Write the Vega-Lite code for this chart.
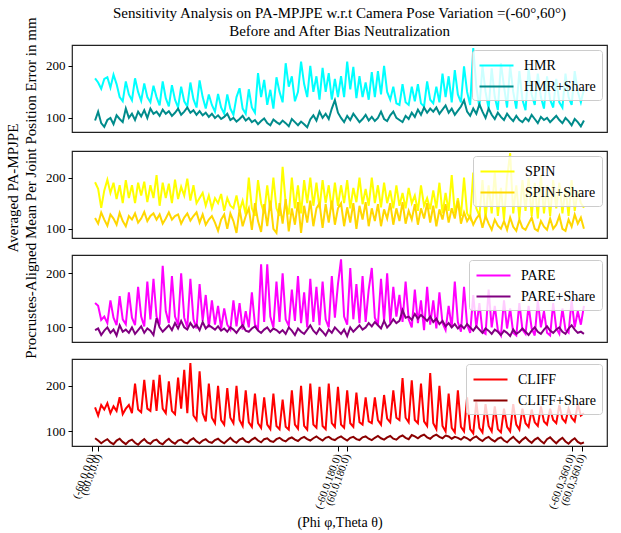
{
"$schema":"https://vega.github.io/schema/vega-lite/v6.json",
"padding":{"left":5,"top":5,"right":5,"bottom":0},
"config":{
"font":"Liberation Serif",
"view":{"stroke":"#222","strokeWidth":1.2},
"axis":{"labelFont":"Liberation Serif","titleFont":"Liberation Serif","labelColor":"#000","titleColor":"#000","tickColor":"#000","grid":false,"domain":false,"labelFontSize":13,"tickSize":4,"labelPadding":3,"titleFontWeight":"normal"},
"legend":{"orient":"top-right","offset":5,"title":null,"labelFont":"Liberation Serif","labelFontSize":14,"labelColor":"#000","symbolType":"M-2,0H2","symbolStrokeWidth":2,"symbolSize":289,"symbolOffset":9,"labelOffset":18,"padding":6,"strokeColor":"#cccccc","fillColor":"rgba(255,255,255,0.8)","cornerRadius":3,"rowPadding":4},
"title":{"font":"Liberation Serif","fontWeight":"normal","color":"#000"}
},
"datasets":{
"names":[{"key":"h","series":"HMR"},{"key":"hs","series":"HMR+Share"},{"key":"s","series":"SPIN"},{"key":"ss","series":"SPIN+Share"},{"key":"p","series":"PARE"},{"key":"ps","series":"PARE+Share"},{"key":"c","series":"CLIFF"},{"key":"cs","series":"CLIFF+Share"}],
"d":[
{"x":0,"h":176,"hs":95,"s":191,"ss":121,"p":145,"ps":95,"c":153,"cs":85},
{"x":1,"h":168,"hs":112,"s":178,"ss":110,"p":140,"ps":98,"c":135,"cs":80},
{"x":2,"h":156,"hs":90,"s":141,"ss":132,"p":114,"ps":86,"c":158,"cs":74},
{"x":3,"h":175,"hs":83,"s":175,"ss":118,"p":120,"ps":94,"c":148,"cs":79},
{"x":4,"h":178,"hs":96,"s":196,"ss":106,"p":108,"ps":100,"c":162,"cs":83},
{"x":5,"h":158,"hs":100,"s":170,"ss":128,"p":150,"ps":90,"c":140,"cs":76},
{"x":6,"h":183,"hs":88,"s":190,"ss":120,"p":118,"ps":96,"c":155,"cs":72},
{"x":7,"h":165,"hs":105,"s":158,"ss":108,"p":104,"ps":85,"c":145,"cs":80},
{"x":8,"h":140,"hs":98,"s":185,"ss":131,"p":158,"ps":104,"c":175,"cs":84},
{"x":9,"h":132,"hs":92,"s":150,"ss":115,"p":115,"ps":92,"c":138,"cs":77},
{"x":10,"h":170,"hs":118,"s":195,"ss":105,"p":106,"ps":96,"c":150,"cs":72},
{"x":11,"h":145,"hs":100,"s":160,"ss":125,"p":165,"ps":90,"c":158,"cs":79},
{"x":12,"h":134,"hs":108,"s":185,"ss":118,"p":118,"ps":100,"c":140,"cs":82},
{"x":13,"h":176,"hs":96,"s":150,"ss":130,"p":104,"ps":88,"c":205,"cs":75},
{"x":14,"h":150,"hs":112,"s":190,"ss":112,"p":175,"ps":95,"c":148,"cs":71},
{"x":15,"h":133,"hs":103,"s":165,"ss":120,"p":120,"ps":102,"c":142,"cs":78},
{"x":16,"h":166,"hs":115,"s":192,"ss":133,"p":102,"ps":90,"c":213,"cs":83},
{"x":17,"h":140,"hs":100,"s":152,"ss":115,"p":185,"ps":98,"c":150,"cs":76},
{"x":18,"h":130,"hs":118,"s":185,"ss":125,"p":115,"ps":94,"c":145,"cs":73},
{"x":19,"h":162,"hs":108,"s":160,"ss":130,"p":190,"ps":86,"c":213,"cs":80},
{"x":20,"h":140,"hs":112,"s":205,"ss":118,"p":120,"ps":117,"c":145,"cs":82},
{"x":21,"h":124,"hs":104,"s":145,"ss":128,"p":105,"ps":100,"c":224,"cs":75},
{"x":22,"h":170,"hs":116,"s":190,"ss":110,"p":214,"ps":92,"c":150,"cs":72},
{"x":23,"h":138,"hs":108,"s":160,"ss":120,"p":130,"ps":98,"c":140,"cs":79},
{"x":24,"h":122,"hs":113,"s":188,"ss":132,"p":108,"ps":104,"c":210,"cs":84},
{"x":25,"h":163,"hs":104,"s":150,"ss":118,"p":195,"ps":95,"c":145,"cs":77},
{"x":26,"h":135,"hs":110,"s":196,"ss":125,"p":120,"ps":108,"c":138,"cs":73},
{"x":27,"h":120,"hs":118,"s":158,"ss":128,"p":105,"ps":98,"c":218,"cs":80},
{"x":28,"h":160,"hs":106,"s":182,"ss":110,"p":200,"ps":112,"c":150,"cs":82},
{"x":29,"h":132,"hs":112,"s":165,"ss":122,"p":118,"ps":100,"c":235,"cs":76},
{"x":30,"h":122,"hs":120,"s":198,"ss":130,"p":100,"ps":96,"c":140,"cs":74},
{"x":31,"h":168,"hs":110,"s":155,"ss":116,"p":190,"ps":108,"c":250,"cs":81},
{"x":32,"h":136,"hs":115,"s":185,"ss":125,"p":115,"ps":100,"c":135,"cs":85},
{"x":33,"h":120,"hs":106,"s":150,"ss":132,"p":98,"ps":105,"c":125,"cs":78},
{"x":34,"h":172,"hs":113,"s":160,"ss":112,"p":180,"ps":95,"c":232,"cs":74},
{"x":35,"h":140,"hs":105,"s":170,"ss":128,"p":112,"ps":110,"c":140,"cs":80},
{"x":36,"h":118,"hs":110,"s":145,"ss":108,"p":160,"ps":98,"c":122,"cs":83},
{"x":37,"h":145,"hs":102,"s":165,"ss":118,"p":100,"ps":104,"c":205,"cs":77},
{"x":38,"h":125,"hs":108,"s":140,"ss":125,"p":150,"ps":100,"c":130,"cs":75},
{"x":39,"h":112,"hs":100,"s":160,"ss":112,"p":105,"ps":96,"c":118,"cs":81},
{"x":40,"h":146,"hs":105,"s":150,"ss":96,"p":140,"ps":102,"c":200,"cs":84},
{"x":41,"h":120,"hs":98,"s":168,"ss":118,"p":98,"ps":94,"c":125,"cs":78},
{"x":42,"h":108,"hs":102,"s":135,"ss":128,"p":135,"ps":98,"c":115,"cs":74},
{"x":43,"h":145,"hs":108,"s":160,"ss":100,"p":105,"ps":92,"c":195,"cs":80},
{"x":44,"h":118,"hs":96,"s":145,"ss":130,"p":96,"ps":100,"c":130,"cs":86},
{"x":45,"h":106,"hs":100,"s":140,"ss":115,"p":150,"ps":96,"c":118,"cs":79},
{"x":46,"h":140,"hs":93,"s":165,"ss":92,"p":102,"ps":90,"c":200,"cs":75},
{"x":47,"h":157,"hs":98,"s":135,"ss":138,"p":145,"ps":98,"c":125,"cs":82},
{"x":48,"h":118,"hs":104,"s":155,"ss":105,"p":96,"ps":104,"c":112,"cs":85},
{"x":49,"h":108,"hs":95,"s":128,"ss":125,"p":130,"ps":94,"c":190,"cs":78},
{"x":50,"h":155,"hs":100,"s":200,"ss":140,"p":100,"ps":92,"c":120,"cs":76},
{"x":51,"h":120,"hs":92,"s":140,"ss":98,"p":165,"ps":98,"c":110,"cs":82},
{"x":52,"h":110,"hs":96,"s":125,"ss":150,"p":105,"ps":102,"c":183,"cs":86},
{"x":53,"h":186,"hs":88,"s":195,"ss":115,"p":98,"ps":94,"c":118,"cs":80},
{"x":54,"h":140,"hs":94,"s":150,"ss":94,"p":217,"ps":90,"c":108,"cs":76},
{"x":55,"h":173,"hs":99,"s":130,"ss":148,"p":110,"ps":96,"c":175,"cs":83},
{"x":56,"h":125,"hs":90,"s":185,"ss":105,"p":217,"ps":100,"c":115,"cs":85},
{"x":57,"h":154,"hs":86,"s":135,"ss":155,"p":120,"ps":92,"c":105,"cs":79},
{"x":58,"h":118,"hs":97,"s":200,"ss":100,"p":100,"ps":98,"c":183,"cs":77},
{"x":59,"h":178,"hs":92,"s":140,"ss":92,"p":185,"ps":95,"c":112,"cs":83},
{"x":60,"h":150,"hs":88,"s":125,"ss":150,"p":110,"ps":90,"c":105,"cs":86},
{"x":61,"h":130,"hs":95,"s":221,"ss":110,"p":200,"ps":95,"c":170,"cs":81},
{"x":62,"h":205,"hs":90,"s":150,"ss":158,"p":115,"ps":88,"c":110,"cs":78},
{"x":63,"h":160,"hs":84,"s":128,"ss":95,"p":103,"ps":100,"c":104,"cs":84},
{"x":64,"h":180,"hs":98,"s":200,"ss":140,"p":170,"ps":94,"c":190,"cs":87},
{"x":65,"h":132,"hs":92,"s":140,"ss":108,"p":112,"ps":86,"c":115,"cs":82},
{"x":66,"h":150,"hs":86,"s":185,"ss":152,"p":195,"ps":98,"c":106,"cs":79},
{"x":67,"h":208,"hs":93,"s":130,"ss":92,"p":108,"ps":92,"c":200,"cs":85},
{"x":68,"h":165,"hs":88,"s":195,"ss":145,"p":165,"ps":88,"c":112,"cs":88},
{"x":69,"h":140,"hs":82,"s":150,"ss":112,"p":100,"ps":96,"c":104,"cs":83},
{"x":70,"h":200,"hs":97,"s":200,"ss":155,"p":190,"ps":104,"c":205,"cs":80},
{"x":71,"h":150,"hs":105,"s":145,"ss":105,"p":110,"ps":94,"c":115,"cs":85},
{"x":72,"h":180,"hs":95,"s":190,"ss":140,"p":175,"ps":88,"c":108,"cs":89},
{"x":73,"h":135,"hs":112,"s":140,"ss":150,"p":104,"ps":98,"c":198,"cs":84},
{"x":74,"h":196,"hs":100,"s":195,"ss":102,"p":185,"ps":92,"c":112,"cs":80},
{"x":75,"h":150,"hs":108,"s":150,"ss":148,"p":115,"ps":85,"c":105,"cs":86},
{"x":76,"h":186,"hs":98,"s":185,"ss":112,"p":100,"ps":96,"c":205,"cs":88},
{"x":77,"h":135,"hs":118,"s":138,"ss":155,"p":195,"ps":90,"c":118,"cs":83},
{"x":78,"h":175,"hs":134,"s":190,"ss":108,"p":118,"ps":100,"c":110,"cs":81},
{"x":79,"h":140,"hs":110,"s":145,"ss":140,"p":180,"ps":94,"c":198,"cs":86},
{"x":80,"h":180,"hs":100,"s":185,"ss":150,"p":226,"ps":88,"c":115,"cs":89},
{"x":81,"h":140,"hs":92,"s":150,"ss":105,"p":120,"ps":96,"c":108,"cs":84},
{"x":82,"h":208,"hs":104,"s":195,"ss":142,"p":105,"ps":84,"c":190,"cs":80},
{"x":83,"h":155,"hs":96,"s":140,"ss":112,"p":210,"ps":100,"c":118,"cs":86},
{"x":84,"h":198,"hs":108,"s":180,"ss":150,"p":115,"ps":92,"c":110,"cs":88},
{"x":85,"h":138,"hs":100,"s":152,"ss":100,"p":180,"ps":98,"c":185,"cs":83},
{"x":86,"h":180,"hs":92,"s":200,"ss":145,"p":108,"ps":104,"c":120,"cs":81},
{"x":87,"h":140,"hs":98,"s":148,"ss":118,"p":195,"ps":96,"c":115,"cs":87},
{"x":88,"h":168,"hs":106,"s":178,"ss":152,"p":110,"ps":100,"c":175,"cs":89},
{"x":89,"h":135,"hs":95,"s":145,"ss":105,"p":170,"ps":108,"c":122,"cs":84},
{"x":90,"h":188,"hs":102,"s":200,"ss":140,"p":210,"ps":102,"c":118,"cs":81},
{"x":91,"h":140,"hs":94,"s":150,"ss":115,"p":118,"ps":110,"c":175,"cs":86},
{"x":92,"h":190,"hs":100,"s":185,"ss":148,"p":105,"ps":104,"c":125,"cs":90},
{"x":93,"h":145,"hs":112,"s":142,"ss":105,"p":190,"ps":98,"c":115,"cs":85},
{"x":94,"h":200,"hs":98,"s":190,"ss":138,"p":112,"ps":112,"c":180,"cs":82},
{"x":95,"h":150,"hs":94,"s":150,"ss":120,"p":200,"ps":100,"c":128,"cs":87},
{"x":96,"h":135,"hs":105,"s":175,"ss":150,"p":108,"ps":106,"c":120,"cs":90},
{"x":97,"h":160,"hs":112,"s":140,"ss":108,"p":175,"ps":115,"c":190,"cs":84},
{"x":98,"h":128,"hs":100,"s":185,"ss":140,"p":120,"ps":108,"c":130,"cs":82},
{"x":99,"h":125,"hs":96,"s":145,"ss":115,"p":160,"ps":112,"c":125,"cs":88},
{"x":100,"h":165,"hs":92,"s":170,"ss":152,"p":110,"ps":132,"c":217,"cs":91},
{"x":101,"h":130,"hs":104,"s":140,"ss":110,"p":185,"ps":118,"c":130,"cs":86},
{"x":102,"h":125,"hs":98,"s":180,"ss":135,"p":115,"ps":120,"c":120,"cs":83},
{"x":103,"h":160,"hs":110,"s":150,"ss":118,"p":100,"ps":114,"c":212,"cs":92},
{"x":104,"h":132,"hs":102,"s":165,"ss":148,"p":170,"ps":125,"c":125,"cs":89},
{"x":105,"h":165,"hs":116,"s":135,"ss":108,"p":108,"ps":116,"c":118,"cs":85},
{"x":106,"h":128,"hs":106,"s":185,"ss":140,"p":150,"ps":123,"c":205,"cs":90},
{"x":107,"h":122,"hs":120,"s":145,"ss":120,"p":95,"ps":118,"c":122,"cs":93},
{"x":108,"h":170,"hs":110,"s":160,"ss":150,"p":175,"ps":112,"c":112,"cs":87},
{"x":109,"h":135,"hs":118,"s":138,"ss":112,"p":105,"ps":120,"c":228,"cs":84},
{"x":110,"h":128,"hs":112,"s":175,"ss":145,"p":150,"ps":110,"c":118,"cs":90},
{"x":111,"h":160,"hs":120,"s":140,"ss":105,"p":98,"ps":116,"c":105,"cs":93},
{"x":112,"h":130,"hs":108,"s":190,"ss":138,"p":165,"ps":106,"c":200,"cs":88},
{"x":113,"h":185,"hs":116,"s":130,"ss":118,"p":108,"ps":112,"c":112,"cs":85},
{"x":114,"h":140,"hs":124,"s":170,"ss":148,"p":95,"ps":102,"c":100,"cs":91},
{"x":115,"h":180,"hs":110,"s":135,"ss":112,"p":140,"ps":108,"c":183,"cs":89},
{"x":116,"h":130,"hs":118,"s":205,"ss":140,"p":100,"ps":100,"c":108,"cs":84},
{"x":117,"h":192,"hs":106,"s":130,"ss":120,"p":185,"ps":106,"c":98,"cs":88},
{"x":118,"h":145,"hs":114,"s":160,"ss":155,"p":110,"ps":98,"c":190,"cs":86},
{"x":119,"h":130,"hs":122,"s":125,"ss":110,"p":92,"ps":104,"c":110,"cs":82},
{"x":120,"h":199,"hs":134,"s":200,"ss":132,"p":175,"ps":98,"c":100,"cs":88},
{"x":121,"h":150,"hs":112,"s":130,"ss":115,"p":105,"ps":106,"c":175,"cs":85},
{"x":122,"h":125,"hs":104,"s":120,"ss":125,"p":90,"ps":100,"c":105,"cs":80},
{"x":123,"h":234,"hs":118,"s":210,"ss":108,"p":160,"ps":94,"c":96,"cs":86},
{"x":124,"h":160,"hs":108,"s":140,"ss":120,"p":100,"ps":102,"c":165,"cs":89},
{"x":125,"h":120,"hs":126,"s":125,"ss":128,"p":145,"ps":96,"c":108,"cs":83},
{"x":126,"h":200,"hs":112,"s":195,"ss":102,"p":92,"ps":90,"c":98,"cs":79},
{"x":127,"h":150,"hs":100,"s":120,"ss":125,"p":88,"ps":98,"c":160,"cs":85},
{"x":128,"h":118,"hs":118,"s":185,"ss":110,"p":170,"ps":94,"c":112,"cs":88},
{"x":129,"h":195,"hs":106,"s":130,"ss":98,"p":100,"ps":88,"c":100,"cs":82},
{"x":130,"h":140,"hs":98,"s":210,"ss":118,"p":140,"ps":96,"c":155,"cs":78},
{"x":131,"h":115,"hs":110,"s":125,"ss":106,"p":95,"ps":92,"c":105,"cs":84},
{"x":132,"h":205,"hs":102,"s":180,"ss":100,"p":85,"ps":86,"c":98,"cs":87},
{"x":133,"h":160,"hs":96,"s":118,"ss":115,"p":150,"ps":94,"c":150,"cs":80},
{"x":134,"h":120,"hs":108,"s":200,"ss":98,"p":98,"ps":90,"c":110,"cs":76},
{"x":135,"h":200,"hs":100,"s":248,"ss":122,"p":135,"ps":84,"c":100,"cs":83},
{"x":136,"h":150,"hs":94,"s":130,"ss":104,"p":90,"ps":96,"c":160,"cs":88},
{"x":137,"h":118,"hs":104,"s":185,"ss":96,"p":85,"ps":88,"c":115,"cs":81},
{"x":138,"h":190,"hs":96,"s":120,"ss":118,"p":145,"ps":92,"c":104,"cs":75},
{"x":139,"h":135,"hs":92,"s":195,"ss":102,"p":96,"ps":98,"c":150,"cs":82},
{"x":140,"h":115,"hs":100,"s":135,"ss":98,"p":88,"ps":92,"c":118,"cs":87},
{"x":141,"h":195,"hs":94,"s":200,"ss":110,"p":140,"ps":86,"c":110,"cs":80},
{"x":142,"h":145,"hs":106,"s":125,"ss":122,"p":98,"ps":94,"c":148,"cs":75},
{"x":143,"h":125,"hs":98,"s":190,"ss":100,"p":85,"ps":100,"c":120,"cs":82},
{"x":144,"h":185,"hs":90,"s":120,"ss":96,"p":150,"ps":92,"c":112,"cs":86},
{"x":145,"h":140,"hs":102,"s":205,"ss":115,"p":100,"ps":88,"c":155,"cs":79},
{"x":146,"h":118,"hs":96,"s":130,"ss":104,"p":130,"ps":96,"c":122,"cs":74},
{"x":147,"h":180,"hs":100,"s":185,"ss":98,"p":90,"ps":102,"c":115,"cs":83},
{"x":148,"h":135,"hs":92,"s":125,"ss":120,"p":85,"ps":94,"c":150,"cs":87},
{"x":149,"h":120,"hs":98,"s":195,"ss":100,"p":145,"ps":90,"c":125,"cs":80},
{"x":150,"h":175,"hs":104,"s":140,"ss":108,"p":98,"ps":96,"c":118,"cs":74},
{"x":151,"h":130,"hs":96,"s":190,"ss":125,"p":88,"ps":100,"c":158,"cs":81},
{"x":152,"h":120,"hs":90,"s":130,"ss":100,"p":135,"ps":92,"c":128,"cs":86},
{"x":153,"h":185,"hs":100,"s":180,"ss":96,"p":95,"ps":88,"c":120,"cs":78},
{"x":154,"h":140,"hs":94,"s":125,"ss":118,"p":90,"ps":98,"c":150,"cs":73},
{"x":155,"h":125,"hs":86,"s":195,"ss":104,"p":150,"ps":104,"c":130,"cs":80},
{"x":156,"h":190,"hs":98,"s":135,"ss":128,"p":100,"ps":96,"c":122,"cs":85},
{"x":157,"h":150,"hs":92,"s":175,"ss":110,"p":130,"ps":90,"c":160,"cs":77},
{"x":158,"h":130,"hs":84,"s":150,"ss":122,"p":105,"ps":92,"c":135,"cs":73},
{"x":159,"h":155,"hs":95,"s":141,"ss":100,"p":140,"ps":88,"c":140,"cs":76}
]},
"title":{"text":["Averaged PA-MPJPE","Procrustes-Aligned Mean Per Joint Position Error in mm"],"orient":"left","anchor":"middle","fontSize":15,"lineHeight":18,"offset":6,"dx":80},
"spacing":15,
"resolve":{"scale":{"color":"independent","y":"independent"},"legend":{"color":"independent"}},
"vconcat":[
{"width":535,"height":87,
"title":{"text":["Sensitivity Analysis on PA-MPJPE w.r.t Camera Pose Variation =(-60°,60°)","Before and After Bias Neutralization"],"fontSize":15,"lineHeight":18,"anchor":"middle","frame":"group","offset":5},
"data":{"name":"d"},
"transform":[{"fold":["h","hs"],"as":["key","value"]},{"lookup":"key","from":{"data":{"name":"names"},"key":"key","fields":["series"]}}],
"mark":{"type":"line","strokeWidth":2},
"encoding":{
"x":{"field":"x","type":"quantitative","scale":{"domain":[-7.5,166.5],"nice":false,"zero":false},"axis":null},
"y":{"field":"value","type":"quantitative","scale":{"domain":[73,240],"nice":false,"zero":false},"axis":{"values":[100,200],"title":null}},
"color":{"field":"series","type":"nominal","scale":{"domain":["HMR","HMR+Share"],"range":["#00ffff","#008b8b"]}}
}},
{"width":535,"height":87,
"data":{"name":"d"},
"transform":[{"fold":["s","ss"],"as":["key","value"]},{"lookup":"key","from":{"data":{"name":"names"},"key":"key","fields":["series"]}}],
"mark":{"type":"line","strokeWidth":2},
"encoding":{
"x":{"field":"x","type":"quantitative","scale":{"domain":[-7.5,166.5],"nice":false,"zero":false},"axis":null},
"y":{"field":"value","type":"quantitative","scale":{"domain":[82,252],"nice":false,"zero":false},"axis":{"values":[100,200],"title":null}},
"color":{"field":"series","type":"nominal","scale":{"domain":["SPIN","SPIN+Share"],"range":["#ffff00","#ffd700"]}}
}},
{"width":535,"height":87,
"data":{"name":"d"},
"transform":[{"fold":["p","ps"],"as":["key","value"]},{"lookup":"key","from":{"data":{"name":"names"},"key":"key","fields":["series"]}}],
"mark":{"type":"line","strokeWidth":2},
"encoding":{
"x":{"field":"x","type":"quantitative","scale":{"domain":[-7.5,166.5],"nice":false,"zero":false},"axis":null},
"y":{"field":"value","type":"quantitative","scale":{"domain":[73,234],"nice":false,"zero":false},"axis":{"values":[100,200],"title":null}},
"color":{"field":"series","type":"nominal","scale":{"domain":["PARE","PARE+Share"],"range":["#ff00ff","#800080"]}}
}},
{"width":535,"height":87,
"data":{"name":"d"},
"transform":[{"fold":["c","cs"],"as":["key","value"]},{"lookup":"key","from":{"data":{"name":"names"},"key":"key","fields":["series"]}}],
"mark":{"type":"line","strokeWidth":2},
"encoding":{
"x":{"field":"x","type":"quantitative","scale":{"domain":[-7.5,166.5],"nice":false,"zero":false},
"axis":{"values":[-1,1,79,82,155,158.5],"labelExpr":"datum.value < 0 ? '(-60.0,0.0)' : datum.value < 5 ? '(60.0,0.0)' : datum.value < 80 ? '(-60.0,180.0)' : datum.value < 100 ? '(60.0,180.0)' : datum.value < 156 ? '(-60.0,360.0)' : '(60.0,360.0)'","labelAngle":-70,"labelAlign":"right","labelBaseline":"middle","labelOverlap":false,"labelFlush":false,"labelBound":false,"labelFontSize":11,"tickSize":5,"title":"(Phi φ,Theta θ)","titleFontSize":14,"titlePadding":6}},
"y":{"field":"value","type":"quantitative","scale":{"domain":[68,259],"nice":false,"zero":false},"axis":{"values":[100,200],"title":null}},
"color":{"field":"series","type":"nominal","scale":{"domain":["CLIFF","CLIFF+Share"],"range":["#ff0000","#8b0000"]}}
}}
]
}
